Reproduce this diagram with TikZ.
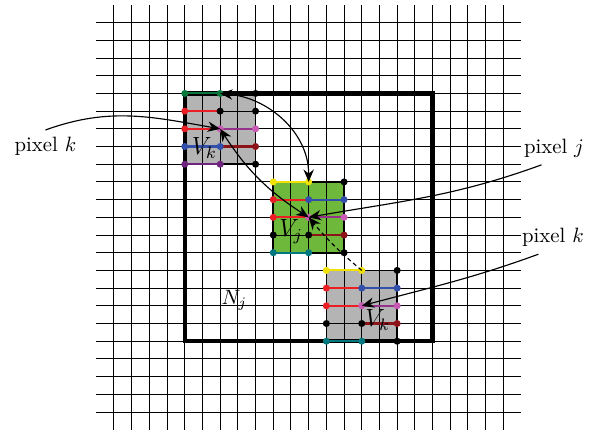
\documentclass[tikz,border=0pt]{standalone}
\usepackage{amsmath,amssymb}
\usepackage{tikz}
\usetikzlibrary{arrows.meta}

\definecolor{dgreen}{RGB}{10,120,60}
\definecolor{pred}{RGB}{235,30,35}
\definecolor{ppink}{RGB}{200,90,180}
\definecolor{ppinkline}{RGB}{150,50,140}
\definecolor{pblue}{RGB}{50,80,170}
\definecolor{pdred}{RGB}{140,20,25}
\definecolor{ppurple}{RGB}{110,35,125}
\definecolor{pyellow}{RGB}{240,225,0}
\definecolor{pteal}{RGB}{0,120,125}
\definecolor{pgray}{RGB}{180,180,180}
\definecolor{pgreen}{RGB}{110,185,60}

\begin{document}
\begin{tikzpicture}[x=0.3cm, y=0.3cm, >={Stealth[length=6pt,width=5pt]},
    gridline/.style={line width=0.5pt},
    seg/.style={line width=1pt},
    arrowline/.style={line width=0.55pt}]
    \useasboundingbox (-6.44,-1.29) rectangle (27.46,23.28);

    % 邻域块的底色
    \fill[pgray] (4,14) rectangle (8,18);
    \fill[pgreen] (9,9) rectangle (13,13);
    \fill[pgray] (12,4) rectangle (16,8);

    % 像素网格
    \foreach \i in {0,...,22} {
        \draw[gridline] (\i,-1) -- (\i,23);
        \draw[gridline] (-1,\i) -- (23,\i);
    }

    % 搜索窗口 N_j
    \draw[line width=0.8pt] (4,14) rectangle (8,18);
    \draw[line width=2pt] (4,4) rectangle (18,18);
    \node (nj) at (6.8,6.3) {$N_j$};

    % 左上块 V_k
    \draw[seg, dgreen] (4,18) -- (6,18);
    \draw[seg, pred] (4,17) -- (6,17);
    \draw[seg, pred] (4,16) -- (6,16);
    \draw[seg, ppinkline] (6,16) -- (8,16);
    \draw[seg, pblue] (4,15) -- (6,15);
    \draw[seg, pdred] (6,15) -- (8,15);
    \draw[seg, ppurple] (4,14) -- (6,14);
    \foreach \x/\y/\c in {4/18/dgreen, 6/18/dgreen, 8/18/black,
                          4/17/pred, 6/17/black, 8/17/black,
                          4/16/pred, 6/16/ppink, 8/16/ppink,
                          4/15/pblue, 6/15/pblue, 8/15/pdred,
                          4/14/ppurple, 6/14/ppurple, 8/14/black} {
        \fill[\c] (\x,\y) circle (1.7pt);
    }
    \coordinate (pixk1) at (6,16);
    \coordinate (topk1) at (6,18);
    \node (vk1) at (5.1,14.9) {\large $V_k$};

    % 中间块 V_j 与右下块 V_k
    \foreach \px/\py/\n in {9/13/j, 12/8/k2} {
        \begin{scope}[shift={(\px,\py)}]
            \draw[line width=0.8pt] (0,0) rectangle (4,-4);
            \draw[seg, pyellow] (0,0) -- (2,0);
            \draw[seg, pred] (0,-1) -- (2,-1);
            \draw[seg, pblue] (2,-1) -- (4,-1);
            \draw[seg, pred] (0,-2) -- (2,-2);
            \draw[seg, ppinkline] (2,-2) -- (4,-2);
            \draw[seg, pdred] (2,-3) -- (4,-3);
            \draw[seg, pteal] (0,-4) -- (2,-4);
            \foreach \x/\y/\c in {0/0/pyellow, 2/0/pyellow, 4/0/black,
                                  0/-1/pred, 2/-1/pblue, 4/-1/pblue,
                                  0/-2/pred, 2/-2/ppink, 4/-2/ppink,
                                  0/-3/black, 2/-3/black, 4/-3/pdred,
                                  0/-4/pteal, 2/-4/pteal, 4/-4/black} {
                \fill[\c] (\x,\y) circle (1.7pt);
            }
            \coordinate (pix\n) at (2,-2);
            \coordinate (top\n) at (2,0);
        \end{scope}
    }
    \node (vj) at (10.0,10.2) {\large $V_j$};
    \node (vk2) at (14.9,5.2) {\large $V_k$};

    % 标注
    \node (pk1) at (-3.87,15.0) {pixel $k$};
    \node (pj) at (24.86,14.9) {pixel $j$};
    \node (pk2) at (24.8,9.85) {pixel $k$};

    % 箭头
    \draw[->, arrowline] (pk1.north) to[out=20, in=170] (pixk1);
    \draw[<->, arrowline] (topk1) to[out=-5, in=90] (topj);
    \draw[<->, arrowline] (pixk1) to[bend right=12] (pixj);
    \draw[->, arrowline, dash pattern=on 2pt off 1.5pt] (topk2) to[bend left=5] (pixj);
    \draw[->, arrowline] ([xshift=-6pt]pj.south) to[out=200, in=10] (pixj);
    \draw[->, arrowline] ([xshift=-7pt]pk2.south) to[out=200, in=15] (pixk2);
\end{tikzpicture}
\end{document}
